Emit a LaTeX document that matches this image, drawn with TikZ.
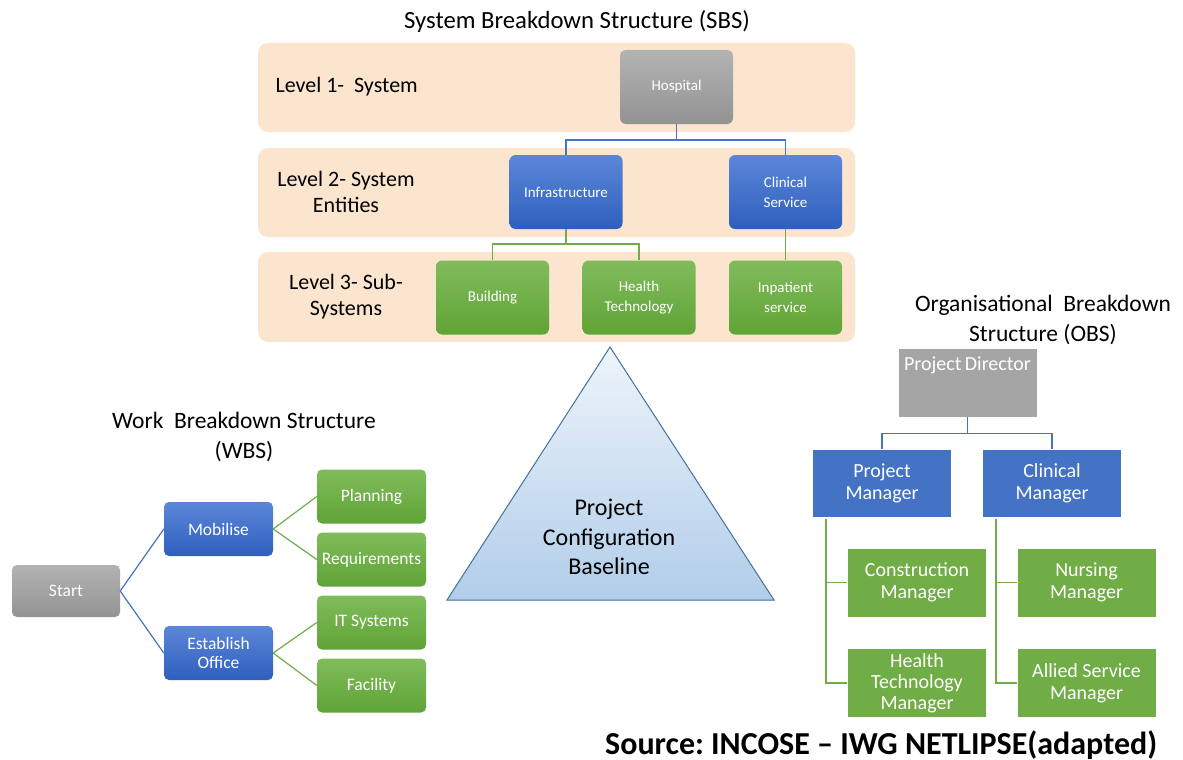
\documentclass[tikz,border=0pt]{standalone}
\usepackage{fontspec}
\setmainfont{Carlito}
\frenchspacing
\definecolor{peach}{HTML}{FBE5CE}
\definecolor{grayT}{HTML}{B3B3B3}
\definecolor{grayB}{HTML}{939393}
\definecolor{blueT}{HTML}{5B87D8}
\definecolor{blueB}{HTML}{2F5FBE}
\definecolor{greenT}{HTML}{80BC5C}
\definecolor{greenB}{HTML}{60A336}
\definecolor{flatblue}{HTML}{4472C4}
\definecolor{flatgreen}{HTML}{70AD47}
\definecolor{flatgray}{HTML}{A5A5A5}
\definecolor{triT}{HTML}{EEF4FB}
\definecolor{triB}{HTML}{B1CDE9}
\definecolor{triline}{HTML}{41719C}
\newcommand{\fsz}[2]{\fontsize{#1}{#2}\selectfont}
\tikzset{
  band/.style={fill=peach, rounded corners=10pt},
  title/.style={align=center, font=\fsz{23.5}{30}},
  levellabel/.style={align=center, font=\fsz{22}{26}},
  sbsbox/.style={minimum width=113pt, minimum height=74pt, inner sep=0pt,
    rounded corners=6pt, text=white, align=center, font=\fsz{15}{20}},
  wbsbox/.style={minimum width=109pt, minimum height=54pt, inner sep=0pt,
    rounded corners=5pt, text=white, align=center, font=\fsz{17.5}{19}},
  obsbox/.style={minimum width=139pt, minimum height=68pt, inner sep=0pt,
    draw=white, line width=0.6pt, text=white, align=center, font=\fsz{20}{22}},
  grayfill/.style={top color=grayT, bottom color=grayB},
  bluefill/.style={top color=blueT, bottom color=blueB},
  greenfill/.style={top color=greenT, bottom color=greenB},
  blueline/.style={draw=flatblue, line width=1.5pt},
  greenline/.style={draw=flatgreen, line width=1.5pt},
}
\begin{document}
\begin{tikzpicture}[x=1pt, y=-1pt]
\useasboundingbox (0,0) rectangle (1183,760);
\fill[white] (0,0) rectangle (1183,760);

% ---------- System Breakdown Structure ----------
\node[title, font=\fsz{24.7}{30}] (sbstitle) at (577,21) {System Breakdown Structure (SBS)};
\fill[band] (258,43) rectangle (855,132);
\fill[band] (258,148) rectangle (855,237);
\fill[band] (258,252) rectangle (855,342);
\node[levellabel, anchor=west] (lv1) at (272,87) {Level 1-\ \ System};
\node[levellabel] (lv2) at (346,192) {Level 2- System\\Entities};
\node[levellabel] (lv3) at (346,297) {Level 3- Sub-\\Systems};

\node[sbsbox, grayfill] (hosp) at (676.5,87) {Hospital};
\node[sbsbox, bluefill] (infra) at (566,192) {Infrastructure};
\node[sbsbox, bluefill] (clin) at (785.5,192) {Clinical\\Service};
\node[sbsbox, greenfill] (build) at (492.5,297.5) {Building};
\node[sbsbox, greenfill] (htech) at (639,297.5) {Health\\Technology};
\node[sbsbox, greenfill] (inpat) at (785.5,297.5) {Inpatient\\service};

\draw[blueline] (hosp.south) -- ++(0,16) -| (infra.north);
\draw[blueline] (hosp.south) -- ++(0,16) -| (clin.north);
\draw[greenline] (infra.south) -- ++(0,15) -| (build.north);
\draw[greenline] (infra.south) -- ++(0,15) -| (htech.north);
\draw[greenline] (clin.south) -- (inpat.north);

% ---------- Project Configuration Baseline ----------
\draw[draw=triline, line width=1pt, top color=triT, bottom color=triB]
  (610,347) -- (774,600) -- (447,600) -- cycle;
\node[align=center, font=\fsz{24}{29.5}] (pcb) at (609,537)
  {Project\\Configuration\\Baseline};

% ---------- Work Breakdown Structure ----------
\node[title] (wbstitle) at (244,437) {Work\ \ Breakdown Structure\\(WBS)};
\node[wbsbox, grayfill, minimum width=108pt, minimum height=52pt] (start) at (66,591) {Start};
\node[wbsbox, bluefill] (mob) at (218.5,529) {Mobilise};
\node[wbsbox, bluefill] (est) at (218.5,653) {Establish\\Office};
\node[wbsbox, greenfill] (plan) at (371.5,496.5) {Planning};
\node[wbsbox, greenfill] (req) at (371.5,559.5) {Requirements};
\node[wbsbox, greenfill] (its) at (371.5,622.5) {IT Systems};
\node[wbsbox, greenfill] (fac) at (371.5,685.5) {Facility};

\draw[blueline, line width=1.2pt] (start.east) -- (mob.west);
\draw[blueline, line width=1.2pt] (start.east) -- (est.west);
\draw[greenline, line width=1.2pt] (mob.east) -- (plan.west);
\draw[greenline, line width=1.2pt] (mob.east) -- (req.west);
\draw[greenline, line width=1.2pt] (est.east) -- (its.west);
\draw[greenline, line width=1.2pt] (est.east) -- (fac.west);

% ---------- Organisational Breakdown Structure ----------
\node[title] (obstitle) at (1043,320) {Organisational\ \ Breakdown\\Structure (OBS)};
\node[obsbox, fill=flatgray, minimum height=69pt,
  label={[anchor=north, text=white, font=\fsz{20}{22}, yshift=-6pt]north:Project\,Director}]
  (dir) at (967.5,382.5) {};
\node[obsbox, fill=flatblue] (pm) at (882,483) {Project\\Manager};
\node[obsbox, fill=flatblue] (cm) at (1052,483) {Clinical\\Manager};
\node[obsbox, fill=flatgreen, minimum height=69pt] (cons) at (917,582.5) {Construction\\Manager};
\node[obsbox, fill=flatgreen, minimum height=69pt, font=\fsz{20}{21}] (htm) at (917,683) {Health\\Technology\\Manager};
\node[obsbox, fill=flatgreen, minimum height=69pt] (nurse) at (1086.5,582.5) {Nursing\\Manager};
\node[obsbox, fill=flatgreen, minimum height=69pt] (allied) at (1086.5,683) {Allied Service\\Manager};

\draw[blueline, line width=1.6pt] (dir.south) -- ++(0,16) -| (pm.north);
\draw[blueline, line width=1.6pt] (dir.south) -- ++(0,16) -| (cm.north);
\coordinate (pmtrunk) at ([xshift=14pt, yshift=-2pt]pm.south west);
\coordinate (cmtrunk) at ([xshift=14pt, yshift=-2pt]cm.south west);
\draw[greenline, line width=1.6pt] (pmtrunk) |- (cons.west);
\draw[greenline, line width=1.6pt] (pmtrunk) |- (htm.west);
\draw[greenline, line width=1.6pt] (cmtrunk) |- (nurse.west);
\draw[greenline, line width=1.6pt] (cmtrunk) |- (allied.west);

% ---------- Source note ----------
\node[font=\bfseries\fsz{32}{36}, anchor=west, inner sep=0pt] (src) at (605,745)
  {Source: INCOSE -- IWG NETLIPSE(adapted)};
\end{tikzpicture}
\end{document}
